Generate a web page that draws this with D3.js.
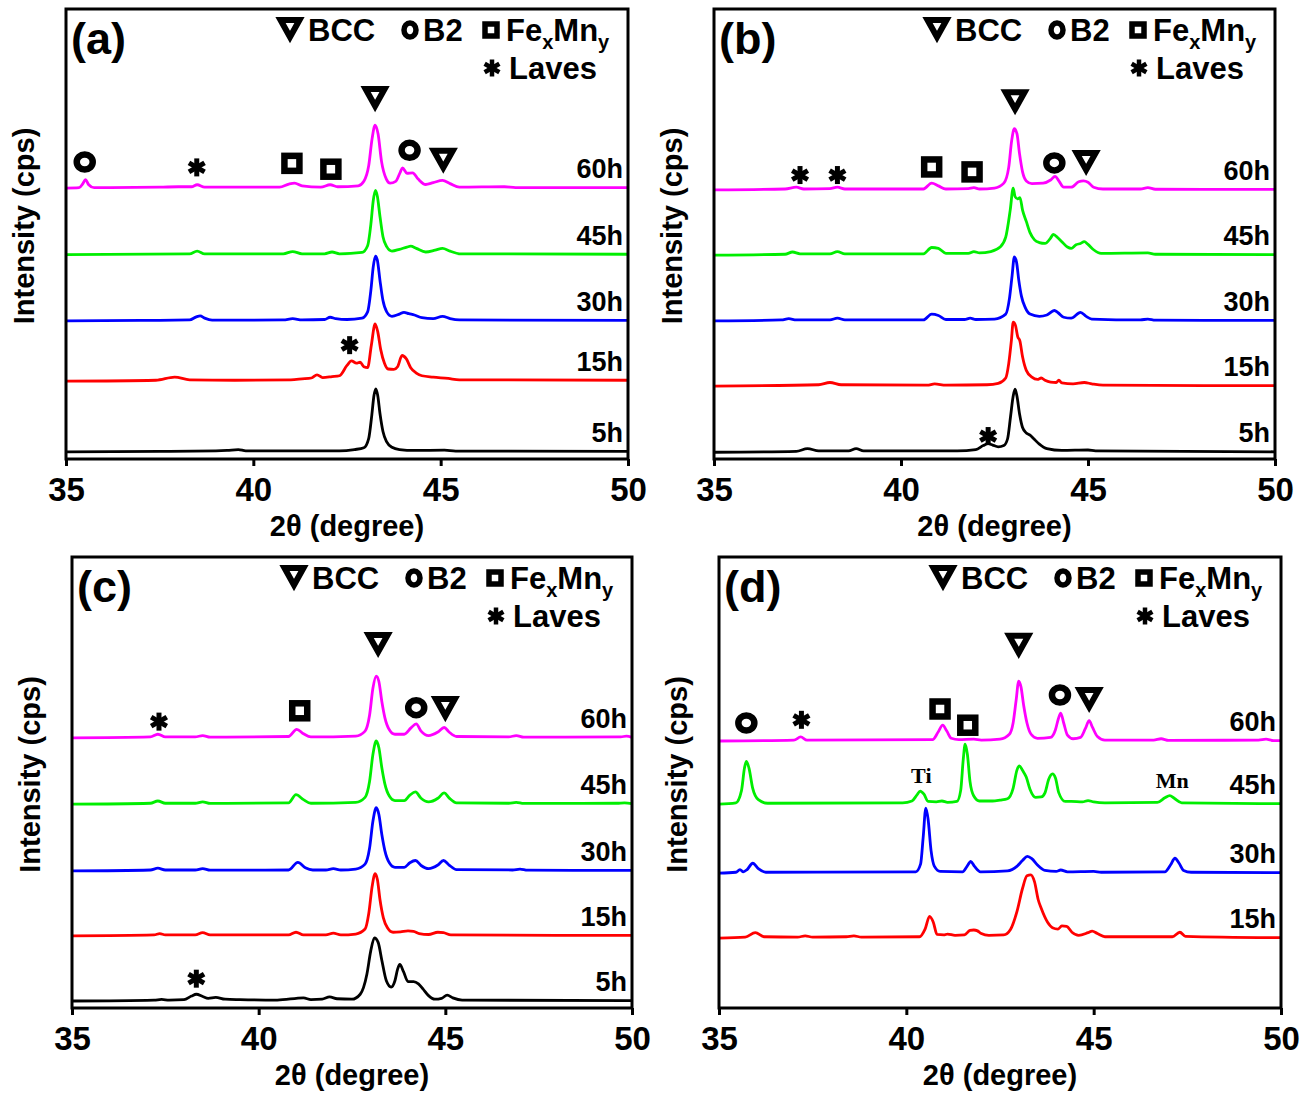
<!DOCTYPE html>
<html>
<head>
<meta charset="utf-8">
<script src="https://cdnjs.cloudflare.com/ajax/libs/d3/7.8.5/d3.min.js"></script>
<style>
  body { margin: 0; background: #fff; }
  text { font-family: "Liberation Sans", Arial, sans-serif; font-weight: bold; fill: #000; }
</style>
</head>
<body>
<svg id="fig" width="1307" height="1093"></svg>
<script>
// ---- data: [2theta, intensity above the trace baseline] ----
const xTicks = [35, 40, 45, 50];
const hours = ['60h', '45h', '30h', '15h', '5h'];
const colors = ['#ff00ff', '#00ee00', '#0000ff', '#ff0000', '#000000'];

// panel (a)
const a60 = [[35,0],[35.35,0.1],[35.45,1.0],[35.52,1.9],[35.6,0.8],[35.75,0.1],[37.5,0.2],[38.0,0.3],[38.35,0.3],[38.5,0.75],[38.7,0.2],[40.7,0.2],[40.95,0.9],[41.1,1.1],[41.3,0.5],[41.8,0.2],[42.05,0.75],[42.25,0.3],[42.8,0.5],[42.95,1.5],[43.08,5],[43.17,11],[43.25,14],[43.33,12],[43.42,6],[43.55,2],[43.65,1.1],[43.8,1.5],[43.92,3.5],[43.98,4.5],[44.1,3.3],[44.25,3.4],[44.4,2.0],[44.6,0.8],[44.8,1.2],[45.05,1.7],[45.25,1.0],[45.5,0.2],[46.7,0.3],[47,0.1],[50,0.1]];
const a45 = [[35,0],[38.3,0.2],[38.5,0.8],[38.7,0.2],[40.8,0.2],[41.05,0.7],[41.3,0.2],[41.9,0.2],[42.1,0.6],[42.3,0.2],[42.9,0.5],[43.05,2],[43.14,7],[43.2,12],[43.26,14.3],[43.31,13],[43.38,8.5],[43.46,4],[43.56,1.8],[43.7,0.8],[43.9,1.2],[44.1,1.7],[44.2,1.9],[44.35,1.4],[44.6,0.6],[44.85,1.0],[45.05,1.4],[45.25,0.8],[45.5,0.2],[50,0.1]];
const a30 = [[35,0],[37.0,0.1],[38.3,0.2],[38.48,0.9],[38.58,1.1],[38.7,0.6],[38.9,0.15],[40.8,0.2],[41.05,0.5],[41.3,0.2],[41.9,0.3],[42.05,0.8],[42.2,0.5],[42.5,0.3],[42.9,0.6],[43.05,2],[43.14,7],[43.2,12],[43.26,14.4],[43.31,13.5],[43.38,9],[43.46,4.5],[43.56,2],[43.7,1.0],[43.9,1.5],[44.02,1.9],[44.15,1.6],[44.3,1.3],[44.5,0.7],[44.8,0.5],[45.05,1.0],[45.25,0.5],[45.5,0.2],[50,0.1]];
const a15 = [[35,0],[37.4,0.2],[37.9,0.9],[38.3,0.3],[39.5,0.2],[41.0,0.3],[41.3,0.5],[41.55,0.7],[41.7,1.4],[41.85,0.8],[42.1,1.0],[42.3,1.2],[42.5,3.5],[42.62,4.5],[42.75,4.0],[42.85,4.2],[42.95,3.2],[43.05,3.0],[43.15,8],[43.25,12.7],[43.32,11],[43.4,7],[43.5,4],[43.6,2.7],[43.75,2.6],[43.85,3.2],[43.97,5.7],[44.08,5],[44.2,3],[44.35,1.8],[44.5,1.2],[44.8,0.9],[45.2,0.6],[45.5,0.3],[46.5,0.3],[50,0.2]];
const a5 = [[35,0],[37.5,0.1],[39.0,0.2],[39.3,0.3],[39.6,0.5],[39.8,0.2],[42.3,0.2],[42.7,0.5],[42.95,0.9],[43.08,3],[43.16,8],[43.22,12.5],[43.27,14],[43.32,12.5],[43.38,8.5],[43.46,4.5],[43.56,2.2],[43.7,1.0],[43.9,0.5],[44.3,0.3],[45.1,0.35],[45.4,0.15],[50,0.1]];
const offsetsA = [60.2, 45.4, 30.7, 17.3, 1.6];
const marksA = [['o',35.5,66],['*',38.49,64.8],['s',41.03,65.7],['s',42.07,64.4],['v',43.25,80],['o',44.17,68.6],['v',45.07,66.3],['*',42.57,25.3]];

// panel (b)
const b60 = [[35,0],[36.9,0.2],[37.2,0.6],[37.4,0.2],[38.1,0.3],[38.3,0.6],[38.5,0.2],[40.6,0.2],[40.82,1.5],[41.0,0.9],[41.2,0.2],[41.8,0.3],[41.95,0.5],[42.1,0.2],[42.5,0.4],[42.75,1.5],[42.88,5],[42.96,11],[43.03,13.6],[43.1,12.5],[43.17,8],[43.25,4],[43.35,2],[43.5,1.4],[43.8,1.5],[44.0,2.2],[44.12,3.0],[44.22,2.0],[44.35,0.6],[44.55,0.6],[44.75,1.8],[44.88,2.0],[45.0,1.7],[45.15,0.6],[45.4,0.2],[46.4,0.2],[46.6,0.5],[46.8,0.15],[50,0.1]];
const b45 = [[35,0],[36.9,0.2],[37.1,0.7],[37.3,0.3],[38.1,0.3],[38.3,0.8],[38.5,0.3],[40.6,0.3],[40.82,1.7],[41.0,1.5],[41.2,0.4],[41.8,0.4],[41.95,0.8],[42.1,0.5],[42.4,0.8],[42.65,1.8],[42.8,4],[42.92,10],[43.0,14.9],[43.05,13],[43.12,12.5],[43.18,12.8],[43.25,10],[43.35,7.5],[43.45,5],[43.57,3.4],[43.7,2.8],[43.85,2.6],[44.0,3.8],[44.07,4.6],[44.2,3.8],[44.3,3.0],[44.45,1.8],[44.55,1.5],[44.68,2.3],[44.8,2.6],[44.9,3.0],[45.0,2.4],[45.15,1.2],[45.35,0.4],[46.6,0.5],[46.8,0.2],[50,0.1]];
const b30 = [[35,0],[36.8,0.2],[37.0,0.5],[37.2,0.2],[38.1,0.2],[38.3,0.6],[38.5,0.2],[40.6,0.2],[40.82,1.5],[41.0,1.2],[41.2,0.3],[41.7,0.3],[41.85,0.6],[42.0,0.3],[42.5,0.4],[42.8,1.5],[42.9,5],[42.97,10],[43.03,14.2],[43.09,13],[43.15,9],[43.22,5.5],[43.32,3],[43.45,1.5],[43.7,1.0],[43.9,1.3],[44.1,2.3],[44.2,1.8],[44.35,0.8],[44.55,0.6],[44.8,1.9],[44.95,1.0],[45.1,0.4],[46.4,0.2],[46.6,0.4],[46.8,0.15],[50,0.1]];
const b15 = [[35,0],[37.8,0.3],[38.1,0.8],[38.4,0.3],[40.7,0.2],[40.9,0.5],[41.2,0.2],[42.3,0.3],[42.6,0.6],[42.8,1.8],[42.88,5],[42.95,10],[43.0,14.2],[43.06,13.5],[43.12,11],[43.18,10],[43.25,6.5],[43.35,3.5],[43.5,2.0],[43.65,1.5],[43.75,1.8],[43.85,1.3],[44.0,0.9],[44.15,0.8],[44.22,1.3],[44.3,0.7],[44.6,0.5],[44.9,0.8],[45.1,0.5],[45.4,0.2],[50,0.1]];
const b5 = [[35,0],[37.2,0.2],[37.5,0.8],[37.8,0.3],[38.6,0.3],[38.8,0.8],[39.0,0.3],[41.5,0.3],[42.0,0.6],[42.2,1.5],[42.33,1.9],[42.45,1.6],[42.6,1.2],[42.75,1.5],[42.85,3],[42.93,8],[43.0,12.5],[43.05,14],[43.1,12.5],[43.17,8.5],[43.25,5.5],[43.35,4.3],[43.45,3.8],[43.55,3.0],[43.7,1.8],[43.9,0.8],[44.3,0.4],[45.0,0.5],[45.2,0.3],[50,0.1]];
const offsetsB = [59.8, 45.3, 30.7, 16.2, 1.5];
const marksB = [['*',37.3,63.1],['*',38.3,63.1],['s',40.82,64.9],['s',41.9,63.8],['v',43.05,79.3],['o',44.1,65.8],['v',44.95,65.8],['*',42.33,5.1]];

// panel (c)
const c60 = [[35,0],[37.1,0.2],[37.3,0.8],[37.5,0.2],[38.3,0.2],[38.5,0.5],[38.7,0.15],[40.8,0.3],[41.02,1.9],[41.2,0.9],[41.4,0.2],[42.6,0.4],[42.85,1.5],[42.97,5],[43.06,11],[43.15,13.7],[43.22,12.5],[43.3,8],[43.38,4.5],[43.5,1.8],[43.65,0.8],[43.9,0.8],[44.08,2.2],[44.22,3.1],[44.35,1.5],[44.55,0.5],[44.8,1.3],[44.97,2.3],[45.1,1.3],[45.3,0.3],[46.7,0.2],[46.9,0.5],[47.1,0.15],[49.7,0.2],[49.85,0.4],[50,0.1]];
const c45 = [[35,0],[37.1,0.2],[37.3,0.7],[37.5,0.2],[38.3,0.2],[38.5,0.5],[38.7,0.15],[40.8,0.3],[41.0,2.1],[41.2,1.0],[41.4,0.2],[42.6,0.4],[42.85,1.5],[42.97,5],[43.06,11],[43.15,14],[43.22,12.5],[43.3,8],[43.38,4.5],[43.5,1.8],[43.65,0.8],[43.9,0.8],[44.05,2.0],[44.2,2.7],[44.35,1.3],[44.55,0.5],[44.8,1.3],[44.97,2.5],[45.1,1.4],[45.3,0.3],[46.7,0.2],[46.9,0.4],[47.1,0.15],[49.6,0.2],[49.8,0.3],[50,0.1]];
const c30 = [[35,0],[37.1,0.2],[37.3,0.6],[37.5,0.2],[38.3,0.2],[38.5,0.5],[38.7,0.15],[40.8,0.2],[41.05,1.9],[41.25,0.7],[41.45,0.2],[41.8,0.2],[42.0,0.5],[42.2,0.2],[42.6,0.4],[42.85,1.5],[42.97,5],[43.06,11],[43.15,14],[43.22,12.5],[43.3,8],[43.38,4.5],[43.5,1.8],[43.65,0.8],[43.9,0.8],[44.05,1.8],[44.2,2.3],[44.35,1.2],[44.55,0.5],[44.8,1.3],[44.95,2.3],[45.1,1.3],[45.3,0.3],[46.8,0.2],[47.0,0.4],[47.2,0.15],[50,0.1]];
const c15 = [[35,0],[37.2,0.2],[37.35,0.5],[37.5,0.2],[38.3,0.2],[38.5,0.7],[38.7,0.2],[40.8,0.2],[41.0,0.8],[41.2,0.2],[41.8,0.2],[42.0,0.6],[42.2,0.2],[42.6,0.4],[42.85,1.5],[42.95,5],[43.04,11],[43.12,13.8],[43.18,12.5],[43.25,8],[43.34,4],[43.45,1.8],[43.6,0.8],[43.8,0.9],[44.0,1.1],[44.15,1.0],[44.3,0.5],[44.55,0.3],[44.8,0.8],[44.95,0.7],[45.15,0.2],[50,0.1]];
const c5 = [[35,0],[37.2,0.2],[37.4,0.35],[37.6,0.2],[38.0,0.3],[38.2,1.1],[38.33,1.5],[38.5,1.0],[38.65,0.6],[38.85,0.8],[39.1,0.4],[39.5,0.3],[40.5,0.2],[41.2,0.7],[41.4,0.3],[41.7,0.4],[41.9,0.9],[42.1,0.5],[42.5,0.4],[42.72,1.5],[42.9,6],[43.0,11],[43.1,14],[43.2,13],[43.3,9],[43.42,4.5],[43.55,3.1],[43.65,4.5],[43.72,7],[43.78,8.1],[43.88,6.5],[44.0,4.3],[44.15,4.3],[44.28,3.8],[44.4,2.7],[44.55,1.2],[44.72,0.4],[44.9,0.6],[45.05,1.3],[45.2,0.7],[45.45,0.2],[50,0.1]];
const offsetsC = [59.9, 45.2, 30.4, 16.0, 1.55];
const marksC = [['*',37.33,63.5],['s',41.1,65.9],['v',43.2,80.5],['o',44.22,66.6],['v',45.0,66.3],['*',38.33,6.5]];

// panel (d)
const d60 = [[35,0],[37.0,0.2],[37.18,0.9],[37.35,0.2],[40.7,0.3],[40.85,2],[40.97,3.5],[41.08,2.2],[41.2,0.6],[41.4,0.3],[41.8,0.4],[42.0,0.2],[42.5,0.4],[42.75,1.5],[42.85,4],[42.93,9],[43.0,13.3],[43.06,12],[43.13,8],[43.22,4],[43.33,1.5],[43.5,0.6],[43.85,0.8],[43.98,2.5],[44.06,5],[44.12,6.2],[44.2,4],[44.3,1.3],[44.45,0.5],[44.65,0.8],[44.78,2.8],[44.88,4.5],[44.97,3],[45.1,1.0],[45.3,0.2],[46.6,0.2],[46.8,0.5],[47.0,0.15],[49.4,0.2],[49.6,0.4],[49.8,0.1],[50,0.1]];
const d45 = [[35,0],[35.45,0.3],[35.6,3],[35.68,8],[35.73,9.5],[35.8,8],[35.9,3.5],[36.05,1.0],[36.3,0.2],[39.9,0.3],[40.15,0.7],[40.28,2],[40.37,2.9],[40.47,2.2],[40.58,0.6],[40.8,0.5],[40.95,0.7],[41.1,0.4],[41.35,0.6],[41.45,3],[41.52,10],[41.57,13.3],[41.63,11],[41.7,5],[41.8,1.8],[41.95,0.7],[42.3,0.7],[42.5,0.9],[42.7,1.2],[42.85,3.5],[42.95,7.5],[43.02,8.5],[43.1,7.5],[43.2,6],[43.3,3.3],[43.45,1.5],[43.6,1.6],[43.7,2.5],[43.8,5.5],[43.9,6.7],[43.98,5.8],[44.07,2.5],[44.24,0.6],[44.4,0.6],[44.7,0.5],[44.85,0.8],[45.0,0.5],[45.3,0.3],[46.7,0.4],[46.9,1.4],[47.03,1.9],[47.15,1.3],[47.35,0.3],[50,0.1]];
const d30 = [[35,0],[35.45,0.2],[35.56,0.8],[35.65,0.3],[35.75,0.8],[35.9,2.2],[36.05,1.0],[36.25,0.2],[40.25,0.3],[40.38,2],[40.45,8],[40.52,14.4],[40.58,12],[40.66,5],[40.75,1.5],[40.9,0.4],[41.5,0.3],[41.62,1.5],[41.72,2.6],[41.82,1.5],[41.98,0.3],[42.7,0.5],[42.95,1.5],[43.1,2.8],[43.23,3.7],[43.35,3.2],[43.5,1.8],[43.7,0.6],[44.0,0.4],[44.12,0.7],[44.3,0.3],[45.0,0.4],[45.2,0.2],[46.9,0.3],[47.05,1.8],[47.17,3.3],[47.28,2.2],[47.4,0.6],[47.6,0.2],[50,0.1]];
const d15 = [[35,0],[35.7,0.2],[35.97,1.2],[36.2,0.3],[37.1,0.2],[37.3,0.5],[37.5,0.2],[38.4,0.3],[38.6,0.5],[38.8,0.2],[40.35,0.3],[40.5,2],[40.62,4.8],[40.72,3.5],[40.82,0.8],[41.0,0.7],[41.1,0.9],[41.3,0.6],[41.55,0.7],[41.7,1.7],[41.8,1.8],[41.9,1.6],[42.0,1.0],[42.2,0.6],[42.6,0.7],[42.78,1.9],[42.95,5.8],[43.1,11],[43.22,13.8],[43.32,14],[43.42,12.5],[43.52,8.5],[43.6,6.6],[43.77,3.5],[43.9,2.3],[44.05,2.0],[44.15,2.7],[44.28,2.6],[44.42,1.3],[44.6,0.6],[44.85,1.2],[44.96,1.55],[45.1,1.0],[45.3,0.3],[47.1,0.3],[47.3,1.3],[47.45,0.4],[50,0.1]];
const offsetsD = [59.2, 45.2, 29.9, 15.5];
const marksD = [['o',35.73,63.2],['*',37.2,63.9],['s',40.9,66.3],['s',41.64,62.7],['v',43.0,80.3],['o',44.1,69.4],['v',44.88,68.3]];
const notesD = [['Ti',40.4,51.4],['Mn',47.1,50.3]];

// ---- layout ----
const panels = [
  { tag: '(a)', box: { l: 66,  r: 628,  t: 9,   b: 459 },  traces: [a60, a45, a30, a15, a5], offsets: offsetsA, marks: marksA, notes: [] },
  { tag: '(b)', box: { l: 714, r: 1275, t: 9,   b: 459 },  traces: [b60, b45, b30, b15, b5], offsets: offsetsB, marks: marksB, notes: [] },
  { tag: '(c)', box: { l: 72,  r: 632,  t: 557, b: 1008 }, traces: [c60, c45, c30, c15, c5], offsets: offsetsC, marks: marksC, notes: [] },
  { tag: '(d)', box: { l: 719, r: 1281, t: 557, b: 1008 }, traces: [d60, d45, d30, d15],     offsets: offsetsD, marks: marksD, notes: notesD }
];

const svg = d3.select('#fig');

// phase symbols (thick outlines with a small white hole, like the bold glyphs)
function symbol(g, type, cx, cy, small) {
  if (type === 'v') {
    g.append('path')
      .attr('d', 'M-9.5,-8L9.5,-8L0,9Z')
      .attr('transform', `translate(${cx},${cy - 2})`)
      .attr('fill', '#fff').attr('stroke', '#000')
      .attr('stroke-width', 6).attr('stroke-linejoin', 'miter');
  } else if (type === 'o') {
    g.append('ellipse')
      .attr('cx', cx).attr('cy', cy)
      .attr('rx', small ? 6 : 8).attr('ry', small ? 7 : 7.5)
      .attr('fill', 'none').attr('stroke', '#000').attr('stroke-width', small ? 5.5 : 6.5);
  } else if (type === 's') {
    const h = small ? 6 : 7.5;
    g.append('rect')
      .attr('x', cx - h).attr('y', cy - h).attr('width', 2 * h).attr('height', 2 * h)
      .attr('fill', 'none').attr('stroke', '#000').attr('stroke-width', small ? 5.5 : 6.5);
  } else {
    // six-armed asterisk
    const rr = small ? 8.5 : 9;
    [90, 30, 150].forEach(a => {
      const dx = rr * Math.cos(a * Math.PI / 180), dy = rr * Math.sin(a * Math.PI / 180);
      g.append('line')
        .attr('x1', cx - dx).attr('y1', cy - dy).attr('x2', cx + dx).attr('y2', cy + dy)
        .attr('stroke', '#000').attr('stroke-width', small ? 4.5 : 5);
    });
  }
}

function drawPanel(p) {
  const g = svg.append('g');
  const x = d3.scaleLinear().domain([35, 50]).range([p.box.l, p.box.r]);
  const y = d3.scaleLinear().domain([0, 100]).range([p.box.b, p.box.t]);

  const line = off => d3.line()
    .x(d => x(d[0]))
    .y(d => y(off + d[1]))
    .curve(d3.curveMonotoneX);

  p.traces.forEach((tr, i) => {
    g.append('path').datum(tr)
      .attr('fill', 'none').attr('stroke', colors[i]).attr('stroke-width', 2.8)
      .attr('stroke-linejoin', 'round')
      .attr('d', line(p.offsets[i]));
    g.append('text')
      .attr('x', p.box.r - 5).attr('y', y(p.offsets[i]) - 10)
      .attr('text-anchor', 'end').attr('font-size', 27)
      .text(hours[i]);
  });

  p.marks.forEach(m => symbol(g, m[0], x(m[1]), y(m[2]), false));

  p.notes.forEach(n => {
    g.append('text')
      .attr('x', x(n[1])).attr('y', y(n[2]) + 7)
      .attr('text-anchor', 'middle')
      .style('font-family', '"Liberation Serif", "Times New Roman", serif')
      .attr('font-size', 22)
      .text(n[0]);
  });

  // frame
  g.append('rect')
    .attr('x', p.box.l).attr('y', p.box.t)
    .attr('width', p.box.r - p.box.l).attr('height', p.box.b - p.box.t)
    .attr('fill', 'none').attr('stroke', '#000').attr('stroke-width', 3);

  // x axis
  const ax = g.append('g')
    .attr('transform', `translate(0,${p.box.b})`)
    .call(d3.axisBottom(x).tickValues(xTicks).tickSize(7).tickSizeOuter(0).tickPadding(12));
  ax.select('.domain').remove();
  ax.selectAll('line').attr('stroke', '#000').attr('stroke-width', 3);
  ax.selectAll('text')
    .attr('font-size', 33).attr('fill', '#000')
    .style('font-family', '"Liberation Sans", Arial, sans-serif').style('font-weight', 'bold');

  g.append('text')
    .attr('x', (p.box.l + p.box.r) / 2).attr('y', p.box.b + 77)
    .attr('text-anchor', 'middle').attr('font-size', 29)
    .text('2θ (degree)');

  const cyMid = (p.box.t + p.box.b) / 2 - 8;
  g.append('text')
    .attr('transform', `translate(${p.box.l - 32},${cyMid}) rotate(-90)`)
    .attr('text-anchor', 'middle').attr('font-size', 29)
    .text('Intensity (cps)');

  // panel tag
  g.append('text')
    .attr('x', p.box.l + 5).attr('y', p.box.t + 45)
    .attr('font-size', 45)
    .text(p.tag);

  // legend
  const r = p.box.r, y1 = p.box.t + 21, y2 = p.box.t + 59;
  symbol(g, 'v', r - 338, y1, true);
  g.append('text').attr('x', r - 320).attr('y', y1 + 11).attr('font-size', 31).text('BCC');
  symbol(g, 'o', r - 218, y1, true);
  g.append('text').attr('x', r - 205).attr('y', y1 + 11).attr('font-size', 31).text('B2');
  symbol(g, 's', r - 137, y1, true);
  const fe = g.append('text').attr('x', r - 122).attr('y', y1 + 11).attr('font-size', 31);
  fe.append('tspan').text('Fe');
  fe.append('tspan').attr('font-size', 20).attr('dy', 8).text('x');
  fe.append('tspan').attr('dy', -8).text('Mn');
  fe.append('tspan').attr('font-size', 20).attr('dy', 8).text('y');
  symbol(g, '*', r - 136, y2, true);
  g.append('text').attr('x', r - 119).attr('y', y2 + 11).attr('font-size', 31).text('Laves');
}

panels.forEach(drawPanel);
</script>
</body>
</html>
